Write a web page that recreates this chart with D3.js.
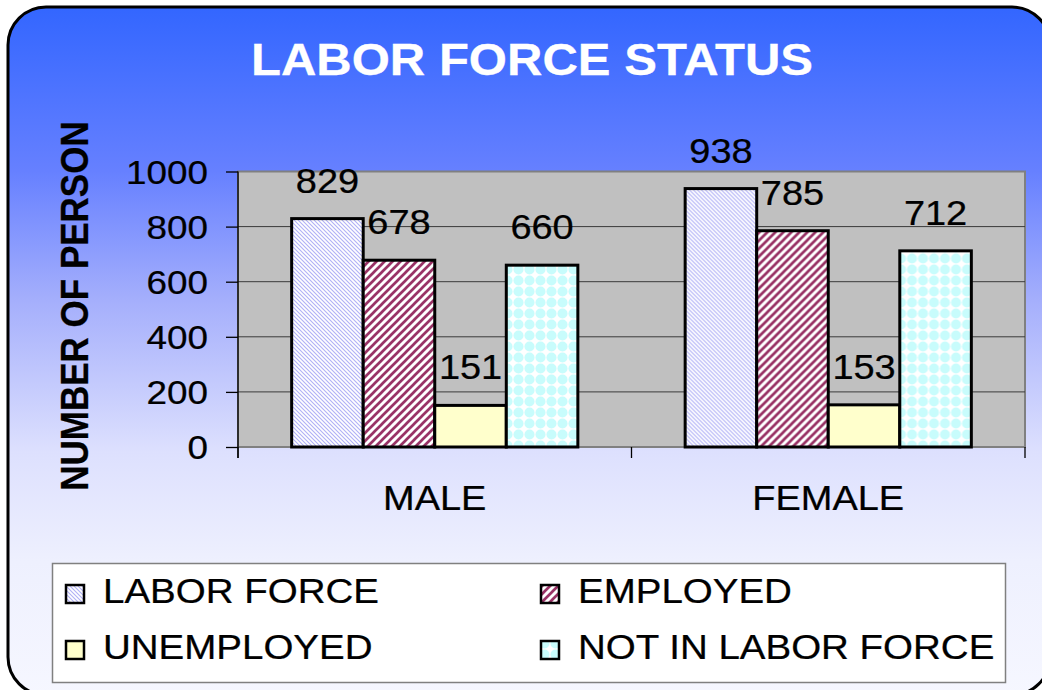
<!DOCTYPE html>
<html>
<head>
<meta charset="utf-8">
<script src="https://cdn.jsdelivr.net/npm/d3@7"></script>
<style>
  body { margin: 0; background: #ffffff; }
  svg { display: block; font-family: "Liberation Sans", Arial, sans-serif; }
</style>
</head>
<body>
<div id="chart"></div>
<script>
// chart data
var categories = ["MALE", "FEMALE"];
var seriesNames = ["LABOR FORCE", "EMPLOYED", "UNEMPLOYED", "NOT IN LABOR FORCE"];
var laborForce = [829, 938];
var employed = [678, 785];
var unemployed = [151, 153];
var notInLaborForce = [660, 712];
var yTicks = [0, 200, 400, 600, 800, 1000];

var seriesValues = [laborForce, employed, unemployed, notInLaborForce];
var fills = ["url(#patLabor)", "url(#patEmployed)", "#FFFFCC", "url(#patNotIn)"];

var W = 1042, H = 690;
// the original picture is a bit stretched sideways, so text gets squeezed the same way
var sx = 1.1;

var plot = {left: 238, right: 1025, top: 171.5, bottom: 447};

var svg = d3.select("#chart")
  .append("svg")
  .attr("width", W)
  .attr("height", H);

var defs = svg.append("defs");

// background gradient
var grad = defs.append("linearGradient")
  .attr("id", "bgGrad")
  .attr("x1", 0).attr("y1", 0).attr("x2", 0).attr("y2", 1);
[[0, "#3366FF"], [0.238, "#6680FF"], [0.427, "#A5AFFC"], [0.646, "#DDE0FE"], [0.806, "#EEF0FE"], [1, "#F6F7FF"]]
  .forEach(function(s) {
    grad.append("stop").attr("offset", s[0]).attr("stop-color", s[1]);
  });

// fill patterns
var p1 = defs.append("pattern")
  .attr("id", "patLabor")
  .attr("patternUnits", "userSpaceOnUse")
  .attr("width", 4).attr("height", 4);
p1.append("rect").attr("width", 4).attr("height", 4).attr("fill", "#ffffff");
p1.append("path")
  .attr("d", "M0,0 L4,4 M-1,3 L1,5 M3,-1 L5,1")
  .attr("stroke", "#B0B0F6")
  .attr("stroke-width", 1.1);

var p2 = defs.append("pattern")
  .attr("id", "patEmployed")
  .attr("patternUnits", "userSpaceOnUse")
  .attr("width", 8).attr("height", 8);
p2.append("rect").attr("width", 8).attr("height", 8).attr("fill", "#ffffff");
p2.append("path")
  .attr("d", "M0,8 L8,0 M-2,2 L2,-2 M6,10 L10,6")
  .attr("stroke", "#993366")
  .attr("stroke-width", 2.7);

var p3 = defs.append("pattern")
  .attr("id", "patNotIn")
  .attr("patternUnits", "userSpaceOnUse")
  .attr("width", 11).attr("height", 11);
p3.append("rect").attr("width", 11).attr("height", 11).attr("fill", "#ffffff");
p3.append("circle")
  .attr("cx", 5.5).attr("cy", 5.5).attr("r", 5)
  .attr("fill", "#C8FCFC");

// outer rounded frame
svg.append("rect")
  .attr("x", 8).attr("y", 7)
  .attr("width", 1042).attr("height", 688)
  .attr("rx", 38).attr("ry", 38)
  .attr("fill", "url(#bgGrad)")
  .attr("stroke", "#000000")
  .attr("stroke-width", 3);

// helper for stretched text
function stext(g, x, y, str, size, anchor, weight, color, rotate, scl) {
  var k = scl || sx;
  var t = "translate(" + x + "," + y + ")";
  if (rotate) t += " rotate(" + rotate + ") scale(1," + k + ")";
  else t += " scale(" + k + ",1)";
  return g.append("text")
    .attr("transform", t)
    .attr("text-anchor", anchor)
    .attr("font-size", size + "px")
    .attr("font-weight", weight || "normal")
    .attr("fill", color || "#000000")
    .attr("stroke", color || "#000000")
    .attr("stroke-width", 0.25)
    .text(str);
}

// title
stext(svg, 532, 75, "LABOR FORCE STATUS", 44, "middle", "bold", "#ffffff", null, 1.115);

// scales
var x0 = d3.scaleBand()
  .domain(categories)
  .range([plot.left, plot.right])
  .padding(0);

var x1 = d3.scaleBand()
  .domain(seriesNames)
  .range([0, x0.bandwidth()])
  .paddingInner(0)
  .paddingOuter(0.75);

var y = d3.scaleLinear()
  .domain([0, 1000])
  .range([plot.bottom, plot.top]);

// plot area
svg.append("rect")
  .attr("x", plot.left).attr("y", plot.top)
  .attr("width", plot.right - plot.left)
  .attr("height", plot.bottom - plot.top)
  .attr("fill", "#C0C0C0")
  .attr("stroke", "#808080")
  .attr("stroke-width", 2);

// gridlines
svg.append("g")
  .selectAll("line")
  .data(yTicks.filter(function(d) { return d > 0 && d < 1000; }))
  .enter().append("line")
  .attr("x1", plot.left).attr("x2", plot.right)
  .attr("y1", function(d) { return y(d); })
  .attr("y2", function(d) { return y(d); })
  .attr("stroke", "#3a3a3a")
  .attr("stroke-width", 1);

// y axis
var yAxis = svg.append("g")
  .attr("transform", "translate(" + plot.left + ",0)")
  .call(d3.axisLeft(y).tickValues(yTicks).tickSize(12).tickPadding(0).tickFormat(function(d) { return ""; }));
yAxis.select(".domain").remove();
yAxis.selectAll(".tick line").attr("stroke", "#000000").attr("stroke-width", 1.3);
svg.append("line")
  .attr("x1", plot.left).attr("x2", plot.left)
  .attr("y1", plot.top).attr("y2", plot.bottom + 11)
  .attr("stroke", "#000000").attr("stroke-width", 1.3);

yTicks.forEach(function(d) {
  stext(svg, 208, y(d) + 12, String(d), 33.5, "end");
});

// x axis ticks at category boundaries
var xEdges = [plot.left].concat(categories.map(function(c) { return x0(c) + x0.bandwidth(); }));
svg.append("g")
  .selectAll("line")
  .data(xEdges)
  .enter().append("line")
  .attr("x1", function(d) { return d; }).attr("x2", function(d) { return d; })
  .attr("y1", plot.bottom).attr("y2", plot.bottom + 11)
  .attr("stroke", "#000000").attr("stroke-width", 1.3);

categories.forEach(function(c) {
  stext(svg, x0(c) + x0.bandwidth() / 2, 510, c, 34.5, "middle");
});

// y axis title
stext(svg, 88, 306, "NUMBER OF PERSON", 35, "middle", "bold", "#000000", -90);

// bars
var groups = svg.selectAll(".grp")
  .data(categories)
  .enter().append("g")
  .attr("class", "grp")
  .attr("transform", function(c) { return "translate(" + x0(c) + ",0)"; });

groups.selectAll("rect")
  .data(function(c, ci) {
    return seriesNames.map(function(s, si) { return {s: s, si: si, v: seriesValues[si][ci]}; });
  })
  .enter().append("rect")
  .attr("x", function(d) { return x1(d.s); })
  .attr("y", function(d) { return y(d.v); })
  .attr("width", x1.bandwidth())
  .attr("height", function(d) { return y(0) - y(d.v); })
  .attr("fill", function(d) { return fills[d.si]; })
  .attr("stroke", "#000000")
  .attr("stroke-width", 3);

// value labels
groups.each(function(c, ci) {
  var g = d3.select(this);
  seriesNames.forEach(function(s, si) {
    var v = seriesValues[si][ci];
    stext(g, x1(s) + x1.bandwidth() / 2, y(v) - 26, String(v), 34.5, "middle");
  });
});

// legend
var legend = svg.append("g");
legend.append("rect")
  .attr("x", 52.5).attr("y", 563.5)
  .attr("width", 953).attr("height", 119)
  .attr("fill", "#ffffff")
  .attr("stroke", "#808080")
  .attr("stroke-width", 1.5);

var legPos = [[66, 603], [541, 603], [66, 659], [541, 659]];
seriesNames.forEach(function(s, i) {
  var px = legPos[i][0], py = legPos[i][1];
  legend.append("rect")
    .attr("x", px).attr("y", py - 18)
    .attr("width", 18).attr("height", 18)
    .attr("fill", fills[i])
    .attr("stroke", "#000000")
    .attr("stroke-width", 2.5);
  stext(legend, px + 37, py, s, 35, "start");
});
</script>
</body>
</html>
